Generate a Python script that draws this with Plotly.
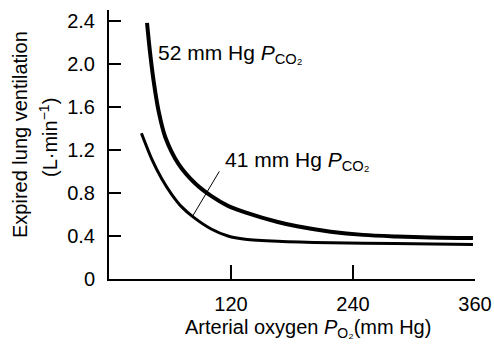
import plotly.graph_objects as go

# Data
po2_52 = [37.4, 40.2, 43.9, 48.8, 55.3, 68.3, 84.6, 100.8, 117, 134, 166, 185, 218, 250, 283, 315, 358]
ve_52 = [2.38, 2.12, 1.84, 1.56, 1.32, 1.07, 0.89, 0.77, 0.68, 0.62, 0.53, 0.49, 0.44, 0.41, 0.395, 0.385, 0.38]

po2_41 = [31.9, 42.3, 52, 61.8, 71.5, 83, 100.5, 117, 134, 166, 218, 280, 358]
ve_41 = [1.355, 1.11, 0.93, 0.785, 0.67, 0.575, 0.465, 0.40, 0.37, 0.35, 0.336, 0.33, 0.32]

x_ticks = [120, 240, 360]
y_ticks = [0, 0.4, 0.8, 1.2, 1.6, 2.0, 2.4]
y_tick_text = ["0", "0.4", "0.8", "1.2", "1.6", "2.0", "2.4"]

label_52 = "52 mm Hg <i>P</i><sub>CO₂</sub>"
label_41 = "41 mm Hg <i>P</i><sub>CO₂</sub>"
pointer_x = [108.5, 82]
pointer_y = [1.0, 0.58]

FONT = "Liberation Sans, Arial, Helvetica, sans-serif"

fig = go.Figure()
fig.add_trace(go.Scatter(x=po2_52, y=ve_52, mode="lines",
                         line=dict(color="black", width=4, shape="spline", smoothing=0.8),
                         hoverinfo="skip", showlegend=False))
fig.add_trace(go.Scatter(x=po2_41, y=ve_41, mode="lines",
                         line=dict(color="black", width=3, shape="spline", smoothing=0.8),
                         hoverinfo="skip", showlegend=False))
fig.add_trace(go.Scatter(x=pointer_x, y=pointer_y, mode="lines",
                         line=dict(color="black", width=1),
                         hoverinfo="skip", showlegend=False))

fig.add_annotation(x=46.1, y=1.95, text=label_52, showarrow=False,
                   xanchor="left", yanchor="bottom", font=dict(size=21, color="black", family=FONT))
fig.add_annotation(x=112.5, y=0.955, text=label_41, showarrow=False,
                   xanchor="left", yanchor="bottom", font=dict(size=21, color="black", family=FONT))

# Axis titles
fig.add_annotation(xref="paper", yref="paper", x=0, y=(279 - 135) / 269,
                   xshift=20 - 109, text="Expired lung ventilation", textangle=-90,
                   showarrow=False, xanchor="center", yanchor="middle",
                   font=dict(size=20, color="black", family=FONT))
fig.add_annotation(xref="paper", yref="paper", x=0, y=(279 - 138) / 269,
                   xshift=48 - 109, text="(L·min<sup>−1</sup>)", textangle=-90,
                   showarrow=False, xanchor="center", yanchor="middle",
                   font=dict(size=20, color="black", family=FONT))
fig.add_annotation(xref="paper", yref="paper", x=(307.5 - 109) / 366, y=0,
                   yshift=-(314 - 279), text="Arterial oxygen <i>P</i><sub>O₂</sub>(mm Hg)",
                   showarrow=False, xanchor="center", yanchor="top",
                   font=dict(size=20, color="black", family=FONT))

fig.update_xaxes(range=[0, 360], tickvals=x_ticks, ticks="inside", ticklen=14,
                 tickwidth=1.5, tickcolor="black", showline=True, linecolor="black",
                 linewidth=2, showgrid=False, zeroline=False, ticklabelstandoff=6,
                 automargin=False,
                 tickfont=dict(size=20, color="black", family=FONT))
fig.update_yaxes(range=[0, 2.5], tickvals=y_ticks, ticktext=y_tick_text, ticks="inside",
                 ticklen=12, tickwidth=1.5, tickcolor="black", showline=True,
                 linecolor="black", linewidth=2, showgrid=False, zeroline=False,
                 automargin=False,
                 ticklabelstandoff=8, tickfont=dict(size=20, color="black", family=FONT))

fig.update_layout(width=494, height=347, margin=dict(l=109, r=19, t=10, b=68, autoexpand=False),
                  plot_bgcolor="white", paper_bgcolor="white",
                  font=dict(family=FONT, color="black"))

fig.write_html("out.html", config={"displayModeBar": False},
               post_script="document.body.style.margin='0';document.body.style.overflow='hidden';")
